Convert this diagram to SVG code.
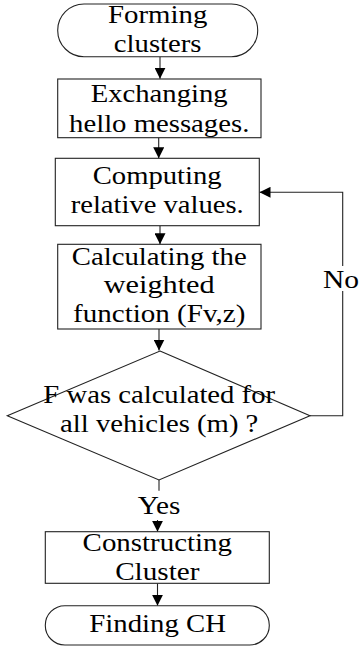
<svg xmlns="http://www.w3.org/2000/svg" width="359" height="648" viewBox="0 0 359 648">
  <defs>
    <marker id="arrow" viewBox="0 0 11 11" refX="11" refY="5.5" markerWidth="11" markerHeight="11" markerUnits="userSpaceOnUse" orient="auto">
      <path d="M0,0 L11,5.5 L0,11 Z" fill="#000"/>
    </marker>
    <style>
      .shape { fill: #fff; stroke: #222; stroke-width: 1.1; }
      .edge { fill: none; stroke: #222; stroke-width: 1.1; }
      text { font-family: "Liberation Serif", "Times New Roman", serif; font-size: 26px; fill: #000; text-anchor: middle; }
    </style>
  </defs>
  <rect width="359" height="648" fill="#fff"/>

  <!-- connectors -->
  <g id="connectors">
    <line class="edge" x1="160" y1="56.7" x2="160" y2="78.8" marker-end="url(#arrow)"/>
    <line class="edge" x1="158.7" y1="137.7" x2="158.7" y2="158.3" marker-end="url(#arrow)"/>
    <line class="edge" x1="160" y1="225.7" x2="160" y2="244.3" marker-end="url(#arrow)"/>
    <line class="edge" x1="159" y1="329" x2="159" y2="350.5" marker-end="url(#arrow)"/>
    <!-- loop back when F is not yet computed for every vehicle -->
    <polyline class="edge" points="310,415.7 342.7,415.7 342.7,291"/>
    <polyline class="edge" points="342.7,266 342.7,192.3 259.5,192.3" marker-end="url(#arrow)"/>
    <text x="341" y="287.5" textLength="36" lengthAdjust="spacingAndGlyphs">No</text>
    <!-- exit when done -->
    <line class="edge" x1="159" y1="480" x2="159" y2="490.7"/>
    <text x="159" y="514.3" textLength="42.6" lengthAdjust="spacingAndGlyphs">Yes</text>
    <line class="edge" x1="157.5" y1="520" x2="157.5" y2="531.7" marker-end="url(#arrow)"/>
    <line class="edge" x1="157.5" y1="583.3" x2="157.5" y2="605.7" marker-end="url(#arrow)"/>
  </g>

  <g id="start">
    <rect class="shape" x="57.7" y="4" width="200" height="52.7" rx="26.3"/>
    <text x="157.7" y="22.7" textLength="99.3" lengthAdjust="spacingAndGlyphs">Forming</text>
    <text x="157.7" y="52.3" textLength="87.7" lengthAdjust="spacingAndGlyphs">clusters</text>
  </g>

  <g id="hello">
    <rect class="shape" x="57.7" y="79" width="203.3" height="58.7"/>
    <text x="159.2" y="101.7" textLength="137" lengthAdjust="spacingAndGlyphs">Exchanging</text>
    <text x="159.2" y="131.7" textLength="180.3" lengthAdjust="spacingAndGlyphs">hello messages.</text>
  </g>

  <g id="relative">
    <rect class="shape" x="55.3" y="158.3" width="204" height="67.4"/>
    <text x="157.2" y="184.3" textLength="129" lengthAdjust="spacingAndGlyphs">Computing</text>
    <text x="157.2" y="213.3" textLength="173" lengthAdjust="spacingAndGlyphs">relative values.</text>
  </g>

  <g id="weighted">
    <rect class="shape" x="57.7" y="244.3" width="203.3" height="84.7"/>
    <text x="159.2" y="265" textLength="175" lengthAdjust="spacingAndGlyphs">Calculating the</text>
    <text x="159.2" y="293.3" textLength="111" lengthAdjust="spacingAndGlyphs">weighted</text>
    <text x="159.2" y="321.7" textLength="172.3" lengthAdjust="spacingAndGlyphs">function (Fv,z)</text>
  </g>

  <g id="check">
    <polygon class="shape" points="160,351 310,415.7 159,480 7.3,415.7"/>
    <text x="159.2" y="403.3" textLength="231.7" lengthAdjust="spacingAndGlyphs">F was calculated for</text>
    <text x="159.2" y="431.5" textLength="198.3" lengthAdjust="spacingAndGlyphs">all vehicles (m) ?</text>
  </g>

  <g id="construct">
    <rect class="shape" x="45.3" y="531.7" width="224" height="51.6"/>
    <text x="157.3" y="550.5" textLength="149.4" lengthAdjust="spacingAndGlyphs">Constructing</text>
    <text x="157.3" y="579.5" textLength="84.3" lengthAdjust="spacingAndGlyphs">Cluster</text>
  </g>

  <g id="finish">
    <rect class="shape" x="45.3" y="605.7" width="224" height="39.3" rx="19.6"/>
    <text x="157.6" y="631.5" textLength="136.7" lengthAdjust="spacingAndGlyphs">Finding CH</text>
  </g>
</svg>
